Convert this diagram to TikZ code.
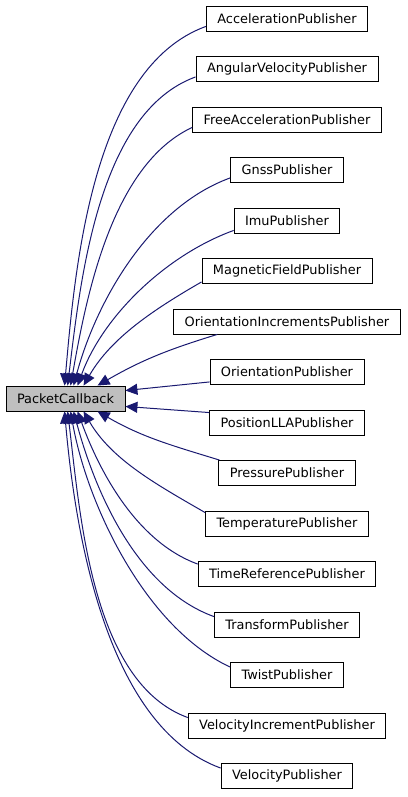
\documentclass[tikz,border=0pt]{standalone}
\usepackage{fontspec}
\setmainfont{DejaVu Sans}
\usepackage{xcolor}
\usepackage{tikz}
\usetikzlibrary{arrows.meta}
\definecolor{midnight}{RGB}{25,25,112}
\tikzset{cls/.style={rectangle,draw=black,line width=0.9pt,minimum height=25pt,inner xsep=11pt,inner ysep=0pt,font=\fontsize{12.9}{15}\selectfont},
         base/.style={cls,fill=black!25},
         inh/.style={draw=midnight,line width=1pt,-{Triangle[length=12pt,width=11pt]}}}

\begin{document}
\begin{tikzpicture}[x=1pt,y=1pt]
        \useasboundingbox (0,0) rectangle (407,797);
        \node[base] (pc) at (65.5,398.5) {PacketCallback};

        \node[cls] (accel) at (287,778.5) {AccelerationPublisher};
        \node[cls] (angvel) at (287,728) {AngularVelocityPublisher};
        \node[cls] (freeacc) at (287,677.5) {FreeAccelerationPublisher};
        \node[cls] (gnss) at (287,627) {GnssPublisher};
        \node[cls] (imu) at (287,576.5) {ImuPublisher};
        \node[cls] (magn) at (287,526) {MagneticFieldPublisher};
        \node[cls] (oinc) at (287,475.5) {OrientationIncrementsPublisher};
        \node[cls] (orient) at (287,425) {OrientationPublisher};
        \node[cls] (poslla) at (287,374.5) {PositionLLAPublisher};
        \node[cls] (pres) at (287,324) {PressurePublisher};
        \node[cls] (temp) at (287,273.5) {TemperaturePublisher};
        \node[cls] (tref) at (287,223) {TimeReferencePublisher};
        \node[cls] (transf) at (287,172.5) {TransformPublisher};
        \node[cls] (twist) at (287,122) {TwistPublisher};
        \node[cls] (velinc) at (287,71.5) {VelocityIncrementPublisher};
        \node[cls] (vel) at (287,21) {VelocityPublisher};

        \draw [inh] ([yshift=5]accel.south west) to[out=200,in=85,looseness=0.8] ([xshift=59]pc.north west);
        \draw [inh] ([yshift=5]angvel.south west) to[out=200,in=83,looseness=0.8] ([xshift=62]pc.north west);
        \draw [inh] ([yshift=5]freeacc.south west) to[out=205,in=80,looseness=0.8] ([xshift=65]pc.north west);
        \draw [inh] ([yshift=5]gnss.south west) to[out=200,in=75,looseness=0.85] ([xshift=68]pc.north west);
        \draw [inh] ([yshift=3]imu.south west) to[out=200,in=70,looseness=0.85] ([xshift=72]pc.north west);
        \draw [inh] ([yshift=2]magn.south west) to[out=210,in=60,looseness=0.9] ([xshift=78]pc.north west);
        \draw [inh] ([xshift=44]oinc.south west) to[out=197,in=30] ([xshift=92]pc.north west);
        \draw [inh] ([yshift=3]orient.south west) -- ([yshift=-5]pc.north east);
        \draw [inh] ([yshift=-3]poslla.north west) -- ([yshift=5]pc.south east);
        \draw [inh] ([xshift=1]pres.north west) to[out=163,in=-30] ([xshift=92]pc.south west);
        \draw [inh] ([yshift=-2]temp.north west) to[out=150,in=-60,looseness=0.9] ([xshift=78]pc.south west);
        \draw [inh] ([yshift=-3]tref.north west) to[out=160,in=-70,looseness=0.85] ([xshift=72]pc.south west);
        \draw [inh] ([yshift=-5]transf.north west) to[out=160,in=-75,looseness=0.85] ([xshift=68]pc.south west);
        \draw [inh] ([yshift=-5]twist.north west) to[out=155,in=-80,looseness=0.8] ([xshift=65]pc.south west);
        \draw [inh] ([yshift=-5]velinc.north west) to[out=160,in=-83,looseness=0.8] ([xshift=62]pc.south west);
        \draw [inh] ([yshift=-5]vel.north west) to[out=160,in=-85,looseness=0.8] ([xshift=59]pc.south west);
\end{tikzpicture}
\end{document}
